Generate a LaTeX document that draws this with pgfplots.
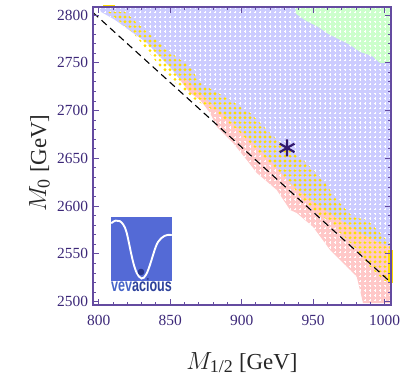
\documentclass[border=0pt]{standalone}
\usepackage{fontspec}
\setmainfont{Liberation Serif}
\newfontfamily\logofont{Liberation Sans}
\usepackage{graphicx}
\usepackage{pgfplots}
\pgfplotsset{compat=1.18}
\usepackage{pgfplotstable}
\usetikzlibrary{patterns.meta}

\definecolor{lav}{RGB}{204,204,255}
\definecolor{pnk}{RGB}{255,200,200}
\definecolor{grn}{RGB}{204,255,204}
\definecolor{ylw}{RGB}{255,222,0}
\definecolor{framec}{RGB}{100,75,160}
\definecolor{ticklab}{RGB}{60,40,120}
\definecolor{starc}{RGB}{50,25,110}
\definecolor{logobg}{RGB}{84,106,214}
\definecolor{logoball}{RGB}{40,55,140}
\definecolor{vevlight}{RGB}{70,100,200}
\definecolor{vevdark}{RGB}{45,65,155}

\tikzdeclarepattern{
  name=wcross, type=uncolored,
  bottom left={(-2.5bp,-2.4bp)}, top right={(2.5bp,2.4bp)},
  tile size={(5bp,4.8bp)},
  code={\draw[line width=0.75bp] (-1.25bp,0bp)--(1.25bp,0bp) (0bp,-1.25bp)--(0bp,1.25bp);}
}
\tikzdeclarepattern{
  name=ydot, type=uncolored,
  bottom left={(-2.5bp,-2.4bp)}, top right={(2.5bp,2.4bp)},
  tile size={(5bp,4.8bp)},
  code={\fill (0bp,0bp) circle[radius=1.55bp];}
}

% lavender region
\pgfplotstableread{
x y
800.2 2808.4
1004.5 2808.4
1004.5 2555
996.8 2559
982.8 2569.5
968.8 2583
958.3 2593.5
947.9 2604
933.8 2622
919.9 2646
908.0 2664
898.9 2677.5
886.3 2695
875.8 2709
860.4 2732
856.9 2732.1
849.9 2745.7
842.9 2756.2
833.8 2770.8
824.0 2781.3
811.4 2794.9
801.6 2803.3
}\tlav

% pink region
\pgfplotstableread{
x y
856.9 2732.1
863.9 2718.5
870.9 2711.2
877.9 2697.5
882.6 2683.2
894.0 2666.1
903.6 2648.3
910.6 2634.7
924.6 2616.9
933.9 2596.0
938.6 2592.8
950.0 2578.2
961.9 2554.1
971.0 2540.5
980.5 2526.1
982.8 2512.2
984.9 2498.5
1004.5 2498.5
1004.5 2557.2
996.8 2561.4
982.8 2571.9
968.8 2585.5
958.3 2595.9
947.9 2606.4
933.8 2624.3
919.9 2648.3
908.0 2666.1
898.9 2679.7
886.3 2697.5
875.8 2711.2
860.4 2734.2
}\tpnk

% green region
\pgfplotstableread{
x y
937.4 2808.4
1004.5 2808.4
1004.5 2749.9
996.8 2749.9
991.2 2757.2
982.8 2761.4
975.8 2768.8
968.8 2774.0
960.5 2780.3
953.5 2787.6
945.1 2793.9
938.1 2801.2
}\tgrn

% yellow band
\pgfplotstableread{
x y
806.5 2803.3
824.0 2781.3
833.8 2763.5
842.9 2745.7
853.4 2729.0
867.4 2711.2
883.5 2697.5
898.9 2676.6
905.9 2666.1
917.8 2648.3
931.8 2627.4
943.0 2606.4
954.9 2588.6
961.9 2585.5
968.8 2571.9
980.7 2554.1
989.8 2536.3
998.9 2522.7
1004.5 2519.5
1004.5 2559.3
996.8 2571.9
987.7 2585.5
977.9 2588.6
966.7 2606.4
957.0 2627.4
943.0 2648.3
926.9 2666.1
919.9 2676.6
905.9 2697.5
891.9 2711.2
870.9 2729.0
863.9 2745.7
847.8 2763.5
834.5 2781.3
821.9 2798.4
818.4 2803.3
}\tylw

\begin{document}
\begin{tikzpicture}
\useasboundingbox (-93bp,-72bp) rectangle (309bp,305bp);
\begin{axis}[
  at={(0,0)}, anchor=south west,
  width=298bp, height=298bp, scale only axis,
  xmin=796, xmax=1004.5, ymin=2496.5, ymax=2808.4,
  xtick={800,850,900,950,1000},
  ytick={2500,2550,2600,2650,2700,2750,2800},
  minor x tick num=4, minor y tick num=4,
  tick align=inside,
  major tick length=6bp, minor tick length=3.5bp,
  axis line style={framec, line width=1.1bp},
  every tick/.style={framec, line width=0.9bp},
  tick label style={font=\fontsize{15.5}{15.5}\selectfont, color=ticklab},
  xticklabel style={yshift=-6.3bp},
  yticklabel style={xshift=-1.5bp},
  /pgf/number format/assume math mode=true,
  /pgf/number format/1000 sep={},
  scaled ticks=false,
  clip=false,
  axis on top,
  xlabel={$M_{\mbox{\fontsize{18}{18}\selectfont 1/2}}$ [GeV]},
  ylabel={$M_{\mbox{\fontsize{18}{18}\selectfont 0}}$ [GeV]},
  xlabel style={at={(axis description cs:0.5,-0.193)}, anchor=center, font=\fontsize{23}{23}\selectfont, color=black!85},
  ylabel style={at={(axis description cs:-0.1795,0.4765)}, anchor=center, font=\fontsize{23}{23}\selectfont, color=black!85},
]
\addplot[fill=lav, draw=none] table[x=x,y=y] {\tlav};
\addplot[fill=grn, draw=none] table[x=x,y=y] {\tgrn};
\addplot[fill=pnk, draw=none] table[x=x,y=y] {\tpnk};
\addplot[pattern=wcross, pattern color=white, draw=none] table[x=x,y=y] {\tlav};
\addplot[pattern=wcross, pattern color=white, draw=none] table[x=x,y=y] {\tgrn};
\addplot[pattern=wcross, pattern color=white, draw=none] table[x=x,y=y] {\tpnk};
\addplot[pattern=ydot, pattern color=ylw, draw=none] table[x=x,y=y] {\tylw};
% yellow points clipped at the frame edges
\addplot[fill=ylw, draw=none] coordinates {(1002.6,2519.5) (1005.8,2519.5) (1005.8,2554) (1002.6,2554)};
\addplot[fill=ylw, draw=none] coordinates {(803,2807) (811.5,2807) (811.5,2810.5) (803,2810.5)};
% dashed boundary
\addplot[black, line width=1.1bp, dash pattern=on 7bp off 4.5bp] coordinates {(796,2802.6) (1003.8,2520.9)};
% best point
\addplot[only marks, mark=asterisk, mark size=8.5bp, mark options={line width=2.2bp, color=starc}] coordinates {(931.8,2660.9)};
\end{axis}
% vevacious logo
\fill[logobg] (17.5bp,24bp) rectangle (78.5bp,88bp);
\draw[white, line width=1.9bp, line cap=round] (18.5bp,82bp) .. controls (24bp,87bp) and (30bp,85bp) .. (33.5bp,73bp) .. controls (38bp,55bp) and (41bp,29bp) .. (48.5bp,26.5bp) .. controls (55bp,25bp) and (60bp,55bp) .. (65bp,63bp) .. controls (69bp,69bp) and (74bp,71bp) .. (78.5bp,70bp);
\fill[logoball] (48bp,33bp) circle[radius=3.3bp];
\node[anchor=base, inner sep=0pt] at (48.5bp,13.7bp) {\scalebox{0.7}[1]{\logofont\bfseries\fontsize{18}{18}\selectfont\color{vevlight}vev\color{vevdark}acious}};
\end{tikzpicture}
\end{document}
